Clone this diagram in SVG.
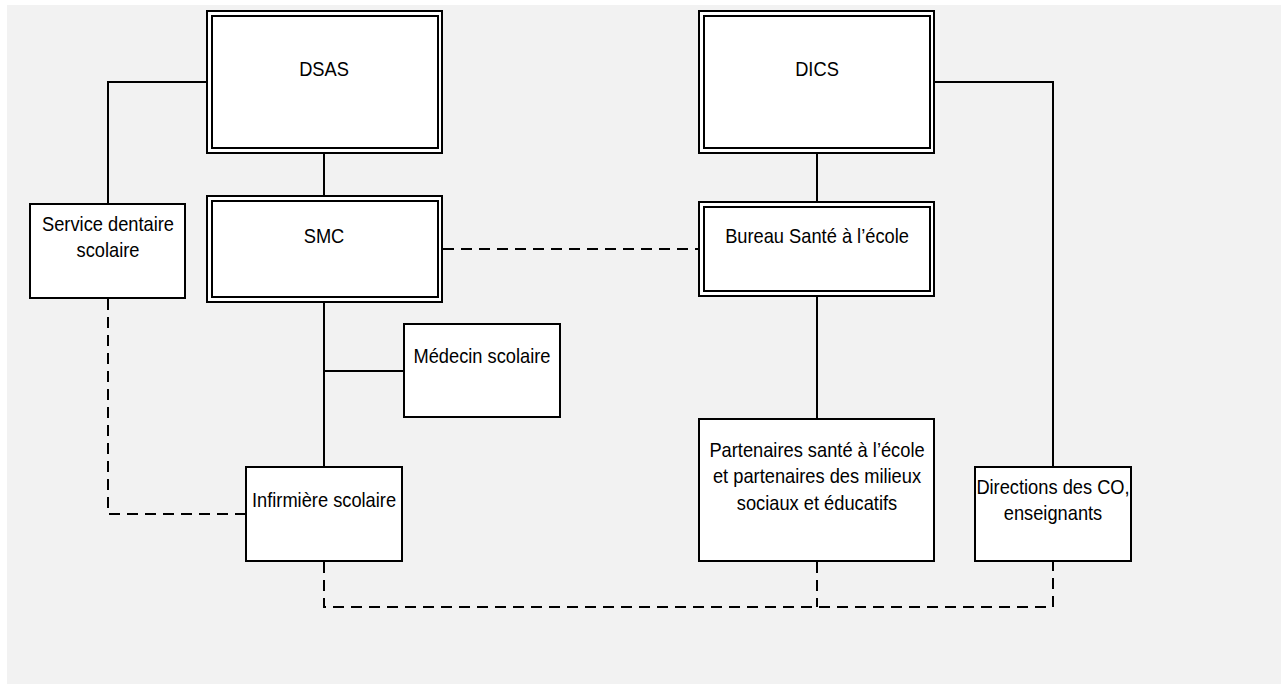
<svg xmlns="http://www.w3.org/2000/svg" width="1281" height="684" viewBox="0 0 1281 684">
<style>
.box{fill:#fff;stroke:#000;stroke-width:2}
.in{fill:none;stroke:#000;stroke-width:2}
.ln{fill:none;stroke:#000;stroke-width:2}
.dash{fill:none;stroke:#000;stroke-width:2;stroke-dasharray:11 7}
.t{font-family:"Liberation Sans",Arial,sans-serif;font-size:21px;fill:#000;text-anchor:middle}
</style>
<rect x="7" y="5" width="1274" height="679" fill="#f2f2f2"/>
<g id="connectors">
<path class="ln" d="M324,154 V195"/>
<path class="ln" d="M206,82 H108 V203"/>
<path class="dash" d="M108,299 V514 H245"/>
<path class="ln" d="M324,303 V466"/>
<path class="ln" d="M324,371 H403"/>
<path class="dash" d="M443,249 H698"/>
<path class="ln" d="M817,154 V201"/>
<path class="ln" d="M935,82 H1053 V466"/>
<path class="ln" d="M817,297 V418"/>
<path class="dash" d="M324,562 V607 H1053 V562"/>
<path class="dash" d="M817,562 V607"/>
</g>
<g id="dsas">
<rect class="box" x="207" y="11" width="235" height="142"/>
<rect class="in" x="212" y="16" width="226" height="132"/>
<text class="t" transform="translate(324,76) scale(0.87,1)">DSAS</text>
</g>
<g id="smc">
<rect class="box" x="207" y="196" width="235" height="106"/>
<rect class="in" x="212" y="201" width="226" height="96"/>
<text class="t" transform="translate(324,243) scale(0.87,1)">SMC</text>
</g>
<g id="dics">
<rect class="box" x="699" y="11" width="235" height="142"/>
<rect class="in" x="704" y="16" width="226" height="132"/>
<text class="t" transform="translate(817,76) scale(0.87,1)">DICS</text>
</g>
<g id="bureau">
<rect class="box" x="699" y="202" width="235" height="94"/>
<rect class="in" x="704" y="207" width="226" height="84"/>
<text class="t" transform="translate(817,243) scale(0.87,1)">Bureau Santé à l’école</text>
</g>
<g id="service-dentaire">
<rect class="box" x="30" y="204" width="155" height="94"/>
<text class="t" transform="translate(108,231) scale(0.87,1)">Service dentaire</text>
<text class="t" transform="translate(108,257) scale(0.87,1)">scolaire</text>
</g>
<g id="medecin">
<rect class="box" x="404" y="324" width="156" height="93"/>
<text class="t" transform="translate(482,363) scale(0.87,1)">Médecin scolaire</text>
</g>
<g id="infirmiere">
<rect class="box" x="246" y="467" width="156" height="94"/>
<text class="t" transform="translate(324,507) scale(0.87,1)">Infirmière scolaire</text>
</g>
<g id="partenaires">
<rect class="box" x="699" y="419" width="235" height="142"/>
<text class="t" transform="translate(817,457) scale(0.87,1)">Partenaires santé à l’école</text>
<text class="t" transform="translate(817,483) scale(0.87,1)">et partenaires des milieux</text>
<text class="t" transform="translate(817,510) scale(0.87,1)">sociaux et éducatifs</text>
</g>
<g id="directions">
<rect class="box" x="975" y="467" width="156" height="94"/>
<text class="t" transform="translate(1053,494) scale(0.87,1)">Directions des CO,</text>
<text class="t" transform="translate(1053,520) scale(0.87,1)">enseignants</text>
</g>
</svg>
